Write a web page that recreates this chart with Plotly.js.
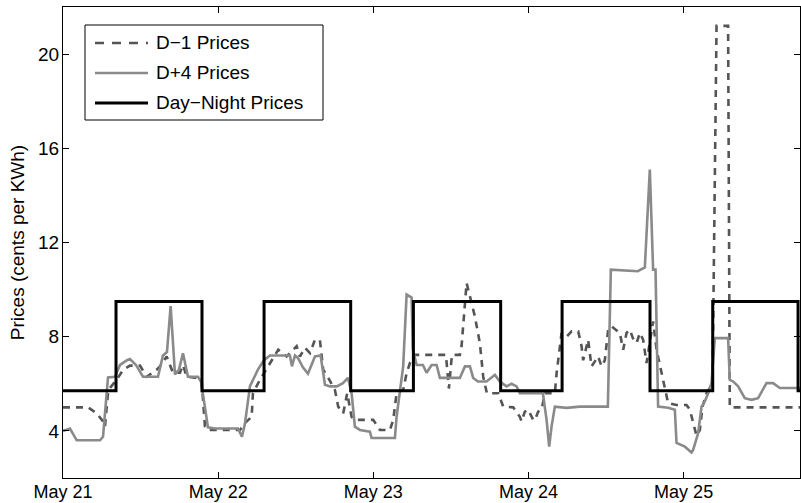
<!DOCTYPE html>
<html>
<head>
<meta charset="utf-8">
<script src="https://cdn.plot.ly/plotly-3.0.1.min.js"></script>
<style>html,body{margin:0;padding:0;background:#fff;}#chart{width:801px;height:503px;}</style>
</head>
<body>
<div id="chart"></div>
<script>
// Hours since May 21 00:00
const xTickVals = [0, 24, 48, 72, 96];
const xTickText = ["May 21", "May 22", "May 23", "May 24", "May 25"];
const yTickVals = [4, 8, 12, 16, 20];
const seriesNames = ["D\u22121 Prices", "D+4 Prices", "Day\u2212Night Prices"];

const d1Hours = [0, 3.87, 5.21, 6.19, 6.49, 7.01, 8.30, 9.32, 10.36, 11.91, 12.94, 14.49, 15.0, 16.04, 17.01, 18.09, 18.56, 19.13, 20.68, 21.45, 21.96, 22.42,
  27.37, 28.14, 29.18, 29.38, 30.46, 31.24, 32.27, 33.30, 34.59, 35.57, 36.14, 36.65, 37.42, 38.20, 38.97, 39.74, 40.25, 41.03, 42.06, 42.57, 43.35, 43.96, 44.64, 45.15,
  47.98, 49.02, 50.57, 51.08, 51.60, 52.62, 53.15, 53.66, 54.43, 59.23, 59.69, 60.16, 61.39, 61.65, 62.01, 62.43, 62.94, 63.71, 64.48, 65.00, 65.57, 67.32, 68.09, 69.64,
  70.67, 70.93, 71.44, 71.95, 72.73, 72.99, 73.50, 74.03, 74.54, 76.08, 76.35, 76.86, 77.12, 77.89, 78.67, 79.69, 80.21, 80.46, 80.98, 81.23, 81.75, 82.78, 83.30, 83.81,
  84.33, 84.85, 86.13, 86.65, 87.17, 87.68, 88.15, 88.72, 89.23, 89.74, 90.26, 90.77, 91.28, 91.81, 92.58, 93.09, 93.60, 94.90, 96.45, 96.96, 97.47, 97.99, 98.51, 98.92,
  99.54, 100.47, 101.09, 102.88, 103.14, 114];
const d1Prices = [5.0, 5.0, 4.75, 4.4, 4.18, 5.74, 6.17, 6.6, 6.77, 6.77, 6.3, 6.6, 6.74, 7.16, 6.47, 6.47, 6.8, 6.3, 6.25, 6.1, 4.18, 4.04,
  4.04, 4.33, 4.6, 5.6, 6.17, 6.52, 7.0, 7.45, 7.16, 7.45, 7.6, 7.16, 7.53, 7.3, 7.87, 7.85, 6.6, 6.25, 5.74, 5.03, 4.75, 5.6, 4.6, 4.47,
  4.47, 4.04, 4.04, 4.47, 5.6, 5.74, 6.45, 6.88, 7.23, 7.23, 5.8, 7.23, 7.23, 7.6, 8.86, 10.28, 9.72, 8.86, 7.73, 6.3, 5.6, 5.6, 5.03, 5.0,
  4.6, 4.4, 4.82, 4.9, 4.47, 4.45, 4.82, 4.9, 5.6, 5.6, 6.45, 7.6, 8.16, 8.0, 8.23, 8.23, 7.6, 7.0, 7.6, 7.87, 6.74, 7.16, 6.74, 7.0,
  8.3, 8.44, 8.16, 7.45, 8.16, 8.3, 7.94, 7.73, 8.16, 7.87, 6.88, 7.73, 8.65, 7.45, 6.45, 5.74, 5.18, 5.1, 5.1, 4.9, 4.33, 3.8, 4.04, 5.03,
  5.6, 6.04, 21.2, 21.2, 5.0, 5.0];

const d4Hours = [0, 1.08, 2.12, 5.72, 6.19, 6.76, 6.96, 8.04, 8.81, 9.90, 10.36, 11.29, 12.37, 14.69, 15.46, 16.08, 16.65, 17.32, 17.94, 18.56, 19.33, 20.88, 21.34, 21.96, 22.42,
  23.51, 27.06, 27.68, 28.14, 28.92, 30.15, 31.08, 32.01, 35.10, 35.41, 35.88, 36.34, 37.11, 37.89, 38.97, 39.85, 40.52, 41.29, 42.37, 43.30, 44.07, 44.64, 45.15, 45.93,
  47.47, 47.74, 51.34, 51.60, 52.62, 53.15, 53.92, 54.12, 54.70, 55.67, 56.24, 57.02, 57.79, 58.30, 61.39, 62.17, 62.94, 63.45, 64.17, 65.52, 66.80, 67.58, 68.61, 69.38,
  70.16, 70.67, 74.23, 74.80, 75.20, 75.57, 76.08, 77.89, 79.95, 84.28, 84.74, 88.91, 90.00, 90.77, 91.28, 91.65, 92.05, 93.60, 94.64, 94.90, 96.19, 97.22, 97.47, 98.24,
  98.77, 99.28, 99.79, 100.31, 100.82, 102.88, 103.14, 103.66, 104.43, 105.46, 106.50, 107.52, 108.82, 109.84, 110.88, 114];
const d4Prices = [4.0, 4.1, 3.6, 3.6, 3.75, 5.5, 6.27, 6.3, 6.8, 7.0, 7.05, 6.8, 6.3, 6.3, 7.2, 7.35, 9.3, 6.4, 6.6, 7.3, 6.3, 6.3, 6.1, 5.0, 4.15,
  4.1, 4.1, 3.75, 4.3, 5.9, 6.6, 7.0, 7.2, 7.2, 6.74, 7.2, 7.1, 6.7, 6.43, 7.16, 7.2, 5.96, 5.89, 5.89, 6.03, 6.25, 5.6, 4.18, 4.04,
  3.97, 3.7, 3.7, 4.6, 6.74, 9.79, 9.66, 7.45, 6.8, 6.8, 6.47, 6.8, 6.8, 6.25, 6.25, 6.74, 6.74, 6.25, 6.1, 6.1, 6.38, 6.1, 5.89, 6.0,
  5.89, 5.6, 5.6, 4.47, 3.33, 4.18, 5.03, 4.98, 5.03, 5.03, 10.85, 10.78, 10.94, 15.1, 10.85, 10.85, 5.03, 4.98, 4.9, 3.49, 3.33, 3.08, 3.19, 3.9,
  5.03, 5.25, 5.6, 6.03, 7.94, 7.94, 6.17, 6.1, 5.89, 5.39, 5.32, 5.39, 6.03, 6.03, 5.82, 5.82];

const dnHours = [0, 8.2, 21.5, 31.1, 44.5, 54.2, 67.7, 77.2, 90.8, 100.5, 113.7, 114];
const dnPrices = [5.7, 9.5, 5.7, 9.5, 5.7, 9.5, 5.7, 9.5, 5.7, 9.5, 5.7, 5.7];

const FAM = "Liberation Sans, Arial, Helvetica, sans-serif";
const font = {family: FAM, size: 18, color: "#000"};
const font19 = {family: FAM, size: 19, color: "#000"};

const styles = [
  {color: "#555555", width: 2.6, dash: "7px,6px"},
  {color: "#8a8a8a", width: 2.6, dash: "solid"},
  {color: "#000000", width: 3, dash: "solid"}
];
const legendDash = ["9px,8px", "solid", "solid"];

const traces = [
  {x: d1Hours, y: d1Prices, mode: "lines", name: seriesNames[0], line: styles[0]},
  {x: d4Hours, y: d4Prices, mode: "lines", name: seriesNames[1], line: styles[1]},
  {x: dnHours, y: dnPrices, mode: "lines", name: seriesNames[2], line: Object.assign({shape: "hv"}, styles[2])}
];

// Custom legend in plot-area pixel fractions (plot area: 63..800 x, 7..478 y)
const PL = 63, PW = 737, PB = 478, PH = 471;
const fx = px => (px - PL) / PW;
const fy = py => (PB - py) / PH;
const shapes = [{type: "rect", xref: "paper", yref: "paper", x0: fx(85), x1: fx(323), y0: fy(120), y1: fy(25),
  line: {color: "#000", width: 1}, fillcolor: "#fff", layer: "above"}];
const annotations = [];
const rowY = [43, 73, 103];
seriesNames.forEach((nm, i) => {
  shapes.push({type: "line", xref: "paper", yref: "paper", x0: fx(95), x1: fx(148), y0: fy(rowY[i]), y1: fy(rowY[i]),
    line: {color: styles[i].color, width: styles[i].width, dash: legendDash[i]}, layer: "above"});
  annotations.push({xref: "paper", yref: "paper", x: fx(154), y: fy(rowY[i]), xanchor: "left", yanchor: "middle",
    text: nm, showarrow: false, font: font19});
});

const layout = {
  width: 801, height: 503,
  margin: {l: 63, r: 1, t: 7, b: 25},
  paper_bgcolor: "#fff", plot_bgcolor: "#fff",
  font: font,
  showlegend: false,
  shapes: shapes,
  annotations: annotations,
  xaxis: {range: [0, 114], tickmode: "array", tickvals: xTickVals, ticktext: xTickText,
          ticks: "inside", ticklen: 6, tickcolor: "#000", showline: true, linecolor: "#000",
          linewidth: 1, mirror: "ticks", showgrid: false, zeroline: false, tickfont: font,
          ticklabelstandoff: -3},
  yaxis: {range: [2, 22], tickmode: "array", tickvals: yTickVals,
          ticks: "inside", ticklen: 6, tickcolor: "#000", showline: true, linecolor: "#000",
          linewidth: 1, mirror: "ticks", showgrid: false, zeroline: false, tickfont: font19,
          ticklabelstandoff: -1,
          title: {text: "Prices (cents per KWh)", font: font19, standoff: 8}}
};

Plotly.newPlot("chart", traces, layout, {staticPlot: true, displayModeBar: false});
</script>
</body>
</html>
